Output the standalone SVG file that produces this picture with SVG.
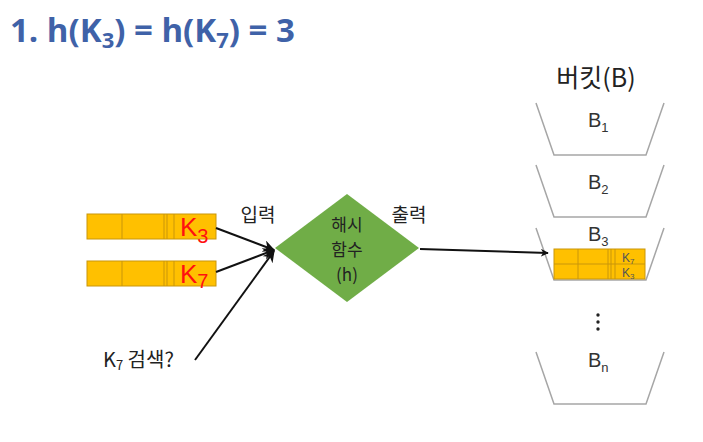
<svg xmlns="http://www.w3.org/2000/svg" width="703" height="442" viewBox="0 0 703 442">
<defs>
<style>
.t{font-family:"Noto Sans CJK KR","Noto Sans",sans-serif;fill:#222}
.title{font-family:"Open Sans","Noto Sans",sans-serif;font-weight:bold;fill:#3f62a8;font-size:33px}
.bar{fill:#ffc000;stroke:#c9960a;stroke-width:1}
.div{stroke:#c9960a;stroke-width:1}
.bucket{fill:none;stroke:#a6a6a6;stroke-width:1.5}
.conn{stroke:#111;stroke-width:2;fill:none}
.red{font-family:"Liberation Sans",sans-serif;fill:#ff1010}
.bl{font-family:"Liberation Sans","Noto Sans",sans-serif;fill:#333;font-size:20px}
</style>
<marker id="ah" viewBox="0 0 10 10" refX="9" refY="5" markerWidth="8" markerHeight="8" orient="auto" markerUnits="userSpaceOnUse">
<path d="M0,0 L10,5 L0,10 L3,5 z" fill="#111"/>
</marker>
<marker id="ah2" viewBox="0 0 10 10" refX="9" refY="5" markerWidth="12" markerHeight="12" orient="auto" markerUnits="userSpaceOnUse">
<path d="M0,0 L10,5 L0,10 L3,5 z" fill="#111"/>
</marker>
</defs>
<rect width="703" height="442" fill="#fff"/>
<text id="title" class="title" x="10" y="42">1. h(K<tspan font-size="22" dy="6">3</tspan><tspan dy="-6">) = h(K</tspan><tspan font-size="22" dy="6">7</tspan><tspan dy="-6">) = 3</tspan></text>

<g id="record1">
<rect class="bar" x="87" y="214" width="129" height="25"/>
<line class="div" x1="122" y1="214" x2="122" y2="239"/>
<line class="div" x1="164" y1="214" x2="164" y2="239"/>
<line class="div" x1="167" y1="214" x2="167" y2="239"/>
<line class="div" x1="174" y1="214" x2="174" y2="239"/>
<text class="red" x="180" y="236" font-size="26">K<tspan font-size="20" dy="7">3</tspan></text>
</g>
<g id="record2">
<rect class="bar" x="87" y="261" width="129" height="25"/>
<line class="div" x1="122" y1="261" x2="122" y2="286"/>
<line class="div" x1="164" y1="261" x2="164" y2="286"/>
<line class="div" x1="167" y1="261" x2="167" y2="286"/>
<line class="div" x1="174" y1="261" x2="174" y2="286"/>
<text class="red" x="180" y="283" font-size="26">K<tspan font-size="20" dy="5">7</tspan></text>
</g>
<g id="search">
<text class="t" x="103" y="367" font-size="20">K<tspan font-size="13" dy="3">7</tspan><tspan dy="-3"> 검색?</tspan></text>
</g>

<g id="hash">
<polygon points="275,248 347,194 419,248 347,302" fill="#70ad47"/>
<text class="t" x="347" y="231" font-size="17" text-anchor="middle">해시</text>
<text class="t" x="347" y="256" font-size="17" text-anchor="middle">함수</text>
<text class="t" x="347" y="281" font-size="17" text-anchor="middle">(h)</text>
</g>
<text id="lbl-in" class="t" x="258" y="222" font-size="19" text-anchor="middle">입력</text>
<text id="lbl-out" class="t" x="409" y="222" font-size="19" text-anchor="middle">출력</text>

<text id="bucket-title" class="t" x="596" y="87" font-size="25" text-anchor="middle">버킷(B)</text>
<g id="bucket1">
<polyline class="bucket" points="536,103 554,155 646,155 664,103"/>
<text class="bl" x="588" y="127">B<tspan font-size="13" dy="5">1</tspan></text>
</g>
<g id="bucket2">
<polyline class="bucket" points="536,165 554,217 646,217 664,165"/>
<text class="bl" x="588" y="189">B<tspan font-size="13" dy="5">2</tspan></text>
</g>
<g id="bucket3">
<polyline class="bucket" points="536,228 554,280 646,280 664,228"/>
<text class="bl" x="588" y="241">B<tspan font-size="13" dy="5">3</tspan></text>
<rect class="bar" x="554" y="249" width="91" height="30"/>
<line class="div" x1="554" y1="264" x2="645" y2="264"/>
<line class="div" x1="578" y1="249" x2="578" y2="279"/>
<line class="div" x1="608" y1="249" x2="608" y2="279"/>
<line class="div" x1="611" y1="249" x2="611" y2="279"/>
<line class="div" x1="615" y1="249" x2="615" y2="279"/>
<text x="622" y="262" font-size="12" font-family="Liberation Sans,sans-serif" fill="#555">K<tspan font-size="8" dy="2">7</tspan></text>
<text x="622" y="277" font-size="12" font-family="Liberation Sans,sans-serif" fill="#555">K<tspan font-size="8" dy="2">3</tspan></text>
</g>
<g id="dots" fill="#222">
<circle cx="598" cy="315" r="1.7"/>
<circle cx="598" cy="322" r="1.7"/>
<circle cx="598" cy="329" r="1.7"/>
</g>
<g id="bucketn">
<polyline class="bucket" points="536,352 554,404 646,404 664,352"/>
<text class="bl" x="588" y="367">B<tspan font-size="13" dy="5">n</tspan></text>
</g>

<g id="connectors">
<line class="conn" x1="216" y1="228" x2="274" y2="250" marker-end="url(#ah2)"/>
<line class="conn" x1="216" y1="272" x2="274" y2="250" marker-end="url(#ah2)"/>
<line class="conn" x1="195" y1="360" x2="274" y2="251" marker-end="url(#ah2)"/>
<line class="conn" x1="420" y1="249" x2="548" y2="253" stroke-width="1.5" marker-end="url(#ah)"/>
</g>
</svg>
